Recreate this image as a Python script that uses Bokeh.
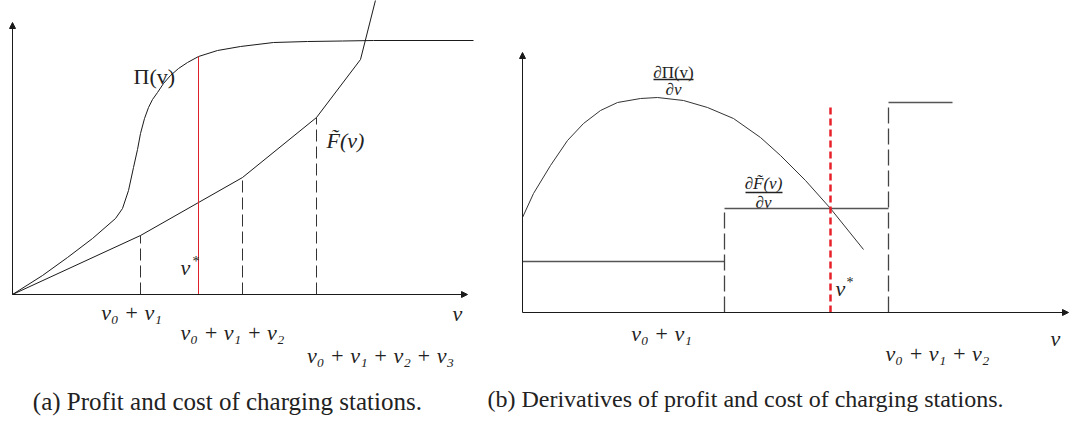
from bokeh.plotting import figure
from bokeh.layouts import row
from bokeh.models import Arrow, NormalHead
from bokeh.core.properties import value
from bokeh.embed import file_html
from bokeh.resources import INLINE

# ---------------- data: panel (a) ----------------
pi_x = [0, 3.0, 5.5, 8.0, 10.3, 11.0, 11.6, 12.1, 12.5, 12.8, 13.2, 13.6, 14.0, 14.5, 15.1, 15.8, 16.6, 17.5,
        18.6, 20.5, 22.8, 26.1, 29.5, 33.0, 36.1, 46.1]
pi_y = [0, 1.9, 3.7, 5.6, 7.6, 8.6, 10.4, 12.7, 14.5, 16.1, 17.6, 18.7, 19.5, 20.2, 21.1, 21.9, 22.6, 23.2,
        23.8, 24.4, 24.8, 25.2, 25.3, 25.35, 25.4, 25.4]
f_x = [0, 12.8, 23.0, 30.4, 34.8, 37.0]
f_y = [0, 5.9, 11.7, 17.7, 23.5, 32.2]
a_ticks = [12.8, 23.0, 30.4]
a_tick_tops = [5.9, 11.7, 17.7]
a_tick_labels = ["v₀ + v₁", "v₀ + v₁ + v₂", "v₀ + v₁ + v₂ + v₃"]
a_vstar = 18.6
a_vstar_top = 23.8

# ---------------- data: panel (b) ----------------
dpi_x = [0, 1.1, 2.8, 4.5, 6.1, 7.8, 9.5, 11.8, 13.5, 16.1, 18.5, 21.1, 23.8, 25.8, 28.3, 30.8, 34.1]
dpi_y = [9.5, 11.9, 14.7, 17.2, 18.9, 20.2, 21.0, 21.4, 21.5, 21.2, 20.5, 19.4, 17.5, 15.7, 13.2, 10.4, 6.3]
step_edges = [0, 20.2, 36.6, 43.0]
step_levels = [5.1, 10.4, 21.0]
b_ticks = [20.2, 36.6]
b_tick_labels = ["v₀ + v₁", "v₀ + v₁ + v₂"]
b_vstar = 30.8
b_vstar_top = 20.7

captions = ["(a)  Profit and cost of charging stations.",
            "(b)  Derivatives of profit and cost of charging stations."]

SERIF = value("Liberation Serif")
INK = "#1a1a1a"


def base_fig(w, xr, yr):
    p = figure(width=w, height=421, x_range=xr, y_range=yr, output_backend="svg",
               toolbar_location=None, min_border=0)
    p.axis.visible = False
    p.grid.visible = False
    p.outline_line_color = None
    p.background_fill_color = "white"
    p.border_fill_color = "white"
    return p


def txt(p, x, y, s, size="22px", style="normal", align="center", base="middle", color="#222222"):
    p.text(x=[x], y=[y], text=[s], text_font=SERIF, text_font_size=size,
           text_font_style=style, text_align=align, text_baseline=base, text_color=color)


def axes(p, xend, yend):
    p.add_layout(Arrow(end=NormalHead(size=6, fill_color=INK, line_color=INK),
                       x_start=0, y_start=0, x_end=xend, y_end=0, line_color=INK, line_width=1))
    p.add_layout(Arrow(end=NormalHead(size=6, fill_color=INK, line_color=INK),
                       x_start=0, y_start=0, x_end=0, y_end=yend, line_color=INK, line_width=1))


# ---------------- panel (a) ----------------
pa = base_fig(485, (-1.2, 47.3), (-12.7, 29.4))
axes(pa, 45.5, 27.2)
pa.line(pi_x, pi_y, line_color=INK, line_width=1)
pa.line(f_x, f_y, line_color=INK, line_width=1)
pa.segment(x0=a_ticks, y0=[0] * len(a_ticks), x1=a_ticks, y1=a_tick_tops,
           line_color="#333333", line_width=1, line_dash="12 5")
pa.segment(x0=[a_vstar], y0=[0], x1=[a_vstar], y1=[a_vstar_top], line_color="#e0202a", line_width=1)

a_lab_dx = [-0.9, -1.0, 6.4]
a_lab_y = [-1.8, -3.8, -6.1]
for t, lab, dx, ly in zip(a_ticks, a_tick_labels, a_lab_dx, a_lab_y):
    txt(pa, t + dx, ly, lab, style="italic")
txt(pa, 44.5, -1.9, "v", style="italic")
txt(pa, 12.1, 21.8, "Π(v)", align="left")
txt(pa, 31.4, 15.4, "F̃(v)", style="italic", align="left")
txt(pa, a_vstar - 1.8, 2.7, "v", style="italic", align="left")
txt(pa, a_vstar - 0.6, 3.3, "*", size="14px", align="left")
txt(pa, 21.8, -10.7, captions[0], size="25px")

# ---------------- panel (b) ----------------
pb = base_fig(585, (-3.7, 54.8), (-10.9, 31.2))
axes(pb, 54.6, 26.0)
pb.line(dpi_x, dpi_y, line_color="#333333", line_width=1)
pb.segment(x0=step_edges[:-1], y0=step_levels, x1=step_edges[1:], y1=step_levels,
           line_color="#555555", line_width=1.3)
pb.segment(x0=b_ticks, y0=[0] * len(b_ticks), x1=b_ticks, y1=step_levels[1:],
           line_color="#444444", line_width=1.3, line_dash="16 5")
pb.segment(x0=[b_vstar], y0=[0], x1=[b_vstar], y1=[b_vstar_top],
           line_color="#e8202a", line_width=2.5, line_dash="7 4")

b_lab_dx = [-6.3, 4.9]
b_lab_y = [-2.1, -4.1]
for t, lab, dx, ly in zip(b_ticks, b_tick_labels, b_lab_dx, b_lab_y):
    txt(pb, t + dx, ly, lab, style="italic")
txt(pb, 53.3, -2.6, "v", style="italic")

# fraction dPi/dv
txt(pb, 15.1, 24.0, "∂Π(v)", size="17px")
pb.segment(x0=[13.1], y0=[23.3], x1=[17.1], y1=[23.3], line_color="#222222", line_width=1.5)
txt(pb, 15.1, 22.3, "∂v", size="17px", style="italic")
# fraction dF/dv
txt(pb, 24.1, 12.9, "∂F̃(v)", size="17px", style="italic")
pb.segment(x0=[22.3], y0=[12.0], x1=[26.0], y1=[12.0], line_color="#222222", line_width=1.5)
txt(pb, 24.1, 11.0, "∂v", size="17px", style="italic")

txt(pb, b_vstar + 0.5, 2.4, "v", style="italic", align="left")
txt(pb, b_vstar + 1.6, 3.0, "*", size="14px", align="left")
txt(pb, 22.6, -8.6, captions[1], size="24px")

layout = row(pa, pb, spacing=0)
open("out.html", "w").write(file_html(layout, INLINE))
